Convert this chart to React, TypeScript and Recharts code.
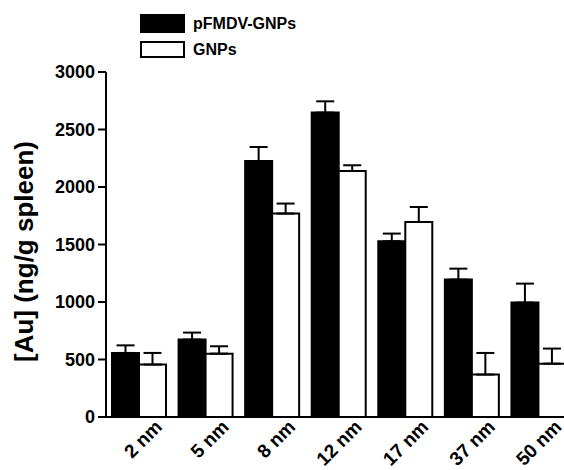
import { BarChart, Bar, XAxis, YAxis, ErrorBar } from 'recharts';

const categories = ['2 nm', '5 nm', '8 nm', '12 nm', '17 nm', '37 nm', '50 nm'];
const pfmdvValues = [557, 673, 2226, 2647, 1528, 1195, 995];
const pfmdvErrors = [66, 61, 122, 98, 67, 95, 165];
const gnpValues = [456, 551, 1769, 2139, 1696, 369, 464];
const gnpErrors = [101, 64, 87, 50, 130, 188, 131];
const yTicks = [0, 500, 1000, 1500, 2000, 2500, 3000];

const seriesNames = ['pFMDV-GNPs', 'GNPs'];
const FONT = 'Arial, "Liberation Sans", sans-serif';

const data = categories.map((size, i) => ({
  size,
  pfmdv: pfmdvValues[i],
  pfmdvErr: [0, pfmdvErrors[i]],
  gnp: gnpValues[i],
  gnpErr: [0, gnpErrors[i]],
}));

// rotated category labels, end of text sits right of the group centre
const XTick = ({ x, y, payload }) => (
  <text
    x={0}
    y={0}
    transform={`translate(${x + 24}, ${y + 3}) rotate(-45)`}
    textAnchor="end"
    fontFamily={FONT}
    fontWeight="bold"
    fontSize={19}
    fill="#000"
  >
    {payload.value}
  </text>
);

const YLabel = ({ viewBox }) => {
  const cx = viewBox.x + 24;
  const cy = viewBox.y + viewBox.height / 2 + 7;
  return (
    <text
      x={cx}
      y={cy}
      transform={`rotate(-90 ${cx} ${cy})`}
      textAnchor="middle"
      dominantBaseline="central"
      fontFamily={FONT}
      fontWeight="bold"
      fontSize={26}
      fill="#000"
    >
      [Au] (ng/g spleen)
    </text>
  );
};

function ChartLegend() {
  return (
    <svg width={260} height={62} style={{ position: 'absolute', left: 138, top: 12 }}>
      <rect x={3} y={3} width={43} height={17} fill="#000" stroke="#000" strokeWidth={2} />
      <text x={55} y={17} fontFamily={FONT} fontWeight="bold" fontSize={16}>
        {seriesNames[0]}
      </text>
      <rect x={3} y={30} width={43} height={15} fill="#fff" stroke="#000" strokeWidth={2} />
      <text x={55} y={43} fontFamily={FONT} fontWeight="bold" fontSize={16}>
        {seriesNames[1]}
      </text>
    </svg>
  );
}

export default function App() {
  return (
    <div
      style={{
        position: 'absolute',
        left: 0,
        top: 0,
        width: 564,
        height: 470,
        overflow: 'hidden',
        background: '#fff',
      }}
    >
      <BarChart
        width={580}
        height={470}
        data={data}
        margin={{ top: 72, right: 8, left: 0, bottom: 0 }}
        barCategoryGap={6}
        barGap={0}
      >
        <XAxis
          dataKey="size"
          height={53}
          axisLine={{ stroke: '#000', strokeWidth: 2 }}
          tickLine={false}
          tick={<XTick />}
          interval={0}
        />
        <YAxis
          width={106}
          domain={[0, 3000]}
          ticks={yTicks}
          axisLine={{ stroke: '#000', strokeWidth: 2 }}
          tickLine={{ stroke: '#000', strokeWidth: 2 }}
          tickSize={8}
          tickMargin={3}
          tick={{ fill: '#000', fontFamily: FONT, fontWeight: 'bold', fontSize: 18 }}
          label={<YLabel />}
        />
        <Bar
          dataKey="pfmdv"
          name={seriesNames[0]}
          fill="#000"
          stroke="#000"
          strokeWidth={2}
          isAnimationActive={false}
        >
          <ErrorBar dataKey="pfmdvErr" direction="y" width={9} stroke="#000" strokeWidth={2} />
        </Bar>
        <Bar
          dataKey="gnp"
          name={seriesNames[1]}
          fill="#fff"
          stroke="#000"
          strokeWidth={2}
          isAnimationActive={false}
        >
          <ErrorBar dataKey="gnpErr" direction="y" width={9} stroke="#000" strokeWidth={2} />
        </Bar>
      </BarChart>
      <ChartLegend />
    </div>
  );
}
